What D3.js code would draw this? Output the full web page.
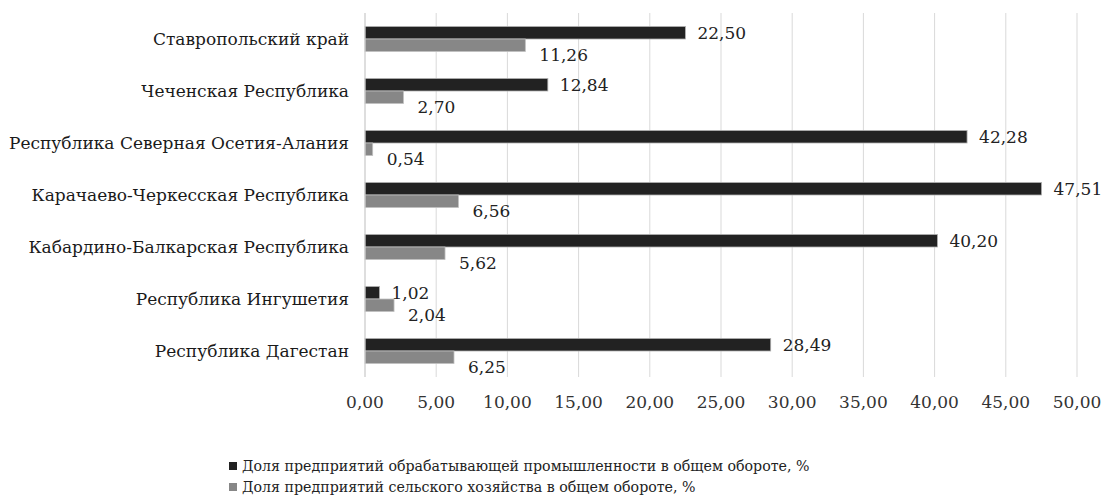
<!DOCTYPE html>
<html><head><meta charset="utf-8">
<script src="https://cdn.jsdelivr.net/npm/d3@7"></script>
<style>body{margin:0;background:#fff}svg{display:block}
text{font-family:"DejaVu Serif",serif}</style>
</head><body>
<svg id="c" width="1101" height="504"></svg>
<script>
const categories = ["Ставропольский край","Чеченская Республика","Республика Северная Осетия-Алания","Карачаево-Черкесская Республика","Кабардино-Балкарская Республика","Республика Ингушетия","Республика Дагестан"];
const manufacturing = [22.50, 12.84, 42.28, 47.51, 40.20, 1.02, 28.49];
const agriculture = [11.26, 2.70, 0.54, 6.56, 5.62, 2.04, 6.25];
const seriesNames = ["Доля предприятий обрабатывающей промышленности в общем обороте, %","Доля предприятий сельского хозяйства в общем обороте, %"];
const xTicks = [0,5,10,15,20,25,30,35,40,45,50];

const svg = d3.select("#c");
const fmt = v => d3.format(".2f")(v).replace(".", ",");
const x = d3.scaleLinear().domain([0,50]).range([365,1077]);
const y = d3.scaleBand().domain(categories).range([13,377]).paddingInner(0).paddingOuter(0);
const barH = 12.5;

svg.append("g").selectAll("line").data(xTicks).join("line")
  .attr("x1", d=>x(d)).attr("x2", d=>x(d)).attr("y1", 13).attr("y2", 377)
  .attr("stroke", "#d9d9d9").attr("stroke-width", 1);

svg.append("g").attr("class","ticks").selectAll("text").data(xTicks).join("text")
  .attr("x", d=>x(d)).attr("y", 402).attr("dy","0.35em").attr("text-anchor","middle")
  .attr("font-size", 17).attr("fill","#333").text(fmt);

svg.append("g").attr("class","cats").selectAll("text").data(categories).join("text")
  .attr("x", 349).attr("y", d=>y(d)+y.bandwidth()/2).attr("dy","0.35em").attr("text-anchor","end")
  .attr("font-size", 17).attr("fill","#1a1a1a").text(d=>d);

const mid = d => y(d)+y.bandwidth()/2;
svg.append("g").selectAll("rect").data(categories).join("rect")
  .attr("x", x(0)).attr("y", d=>mid(d)-barH)
  .attr("width", (d,i)=>x(manufacturing[i])-x(0)).attr("height", barH)
  .attr("fill","#222222").attr("stroke","#b0b0b0").attr("stroke-width",0.8);
svg.append("g").selectAll("rect").data(categories).join("rect")
  .attr("x", x(0)).attr("y", d=>mid(d))
  .attr("width", (d,i)=>x(agriculture[i])-x(0)).attr("height", barH)
  .attr("fill","#878787").attr("stroke","#c0c0c0").attr("stroke-width",0.8);

svg.append("line").attr("x1",x(0)).attr("x2",x(0)).attr("y1",13).attr("y2",377)
  .attr("stroke","#d0d0d0");

svg.append("g").selectAll("text").data(categories).join("text")
  .attr("x", (d,i)=>x(manufacturing[i])+12).attr("y", d=>mid(d)-barH/2).attr("dy","0.35em")
  .attr("font-size", 17).attr("fill","#222").text((d,i)=>fmt(manufacturing[i]));
svg.append("g").selectAll("text").data(categories).join("text")
  .attr("x", (d,i)=>x(agriculture[i])+14).attr("y", d=>mid(d)+barH/2+10).attr("dy","0.35em")
  .attr("font-size", 17).attr("fill","#222").text((d,i)=>fmt(agriculture[i]));

const legColors = ["#222222","#878787"];
const lg = svg.append("g");
seriesNames.forEach((n,i)=>{
  const yy = 466 + i*21;
  lg.append("rect").attr("x",229).attr("y",yy-4).attr("width",8).attr("height",8).attr("fill",legColors[i]);
  lg.append("text").attr("x",242).attr("y",yy).attr("dy","0.35em")
    .attr("font-size",14.2).attr("fill","#222").text(n);
});
</script>
</body></html>
